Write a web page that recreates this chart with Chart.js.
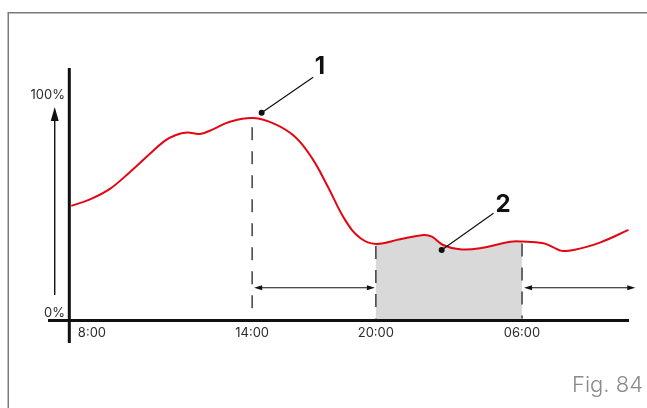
<!DOCTYPE html>
<html>
<head>
<meta charset="utf-8">
<script src="https://cdn.jsdelivr.net/npm/chart.js@4/dist/chart.umd.min.js"></script>
<style>
  html, body { margin: 0; padding: 0; background: #fff; }
  #wrap { width: 647px; height: 408px; }
</style>
</head>
<body>
<div id="wrap"><canvas id="c" width="647" height="408"></canvas></div>
<script>
// Schematic daily timeline (abstract units 0..100) and charge level in percent
const timeX = [0.4, 3.75, 7.3, 10.9, 14.5, 17.1, 19.1, 21.1, 23.4, 25.7, 28.75, 32.9, 36.8, 40.4, 43.4, 46.25, 49.3, 52.0, 54.8, 59.1, 63.3, 64.8, 66.8, 69.8, 73.4, 78.8, 80.9, 84.7, 86.5, 88.0, 90.1, 94.8, 99.9];
const levelPct = [52.5, 55.5, 60.3, 68.1, 76.5, 82.3, 85.0, 86.1, 85.5, 87.6, 91.1, 92.8, 90.0, 84.1, 74.4, 61.2, 46.1, 37.8, 35.1, 37.2, 39.2, 38.4, 34.6, 32.6, 33.1, 36.1, 36.2, 35.4, 33.5, 31.9, 32.3, 35.7, 41.5];

// Time axis labels and where they sit on the timeline
const tickPositions = [4.1, 32.7, 54.8, 80.9];
const tickLabels = ['8:00', '14:00', '20:00', '06:00'];

// Level axis labels
const levelTicks = [0, 100];
const levelLabels = ['0%', '100%'];

// Shaded period (20:00 to 06:00)
const shadedPeriod = [54.8, 80.9];

// Callouts: dot on the curve, leader end, number
const callouts = [
  { label: '1', dot: [34.4, 95.2], end: [43.6, 111.5], text: [44.8, 116.6] },
  { label: '2', dot: [66.55, 32.3], end: [75.8, 49.1], text: [77.5, 53.4] }
];

// Dashed markers: timeline position and top level
const markers = [
  { x: 32.7, top: 89.5 },
  { x: 54.8, top: 35.1 },
  { x: 80.9, top: 36.2 }
];

// Double-headed span arrows at a fixed level
const spans = [
  { from: 32.7, to: 54.8, level: 15 },
  { from: 80.9, to: 101.3, level: 15 }
];

const INK = '#111';
const RED = '#e30613';

function arrowHead(ctx, tipX, tipY, dir, len, half) {
  // dir: 'left' | 'right' | 'up'
  ctx.beginPath();
  if (dir === 'right') {
    ctx.moveTo(tipX, tipY); ctx.lineTo(tipX - len, tipY - half); ctx.lineTo(tipX - len, tipY + half);
  } else if (dir === 'left') {
    ctx.moveTo(tipX, tipY); ctx.lineTo(tipX + len, tipY - half); ctx.lineTo(tipX + len, tipY + half);
  } else {
    ctx.moveTo(tipX, tipY); ctx.lineTo(tipX - half, tipY + len); ctx.lineTo(tipX + half, tipY + len);
  }
  ctx.closePath();
  ctx.fill();
}

const shading = {
  id: 'shading',
  beforeDatasetsDraw(chart) {
    const ctx = chart.ctx, xs = chart.scales.x, ys = chart.scales.y;
    const pts = chart.getDatasetMeta(0).data;
    const x0 = xs.getPixelForValue(shadedPeriod[0]);
    const x1 = xs.getPixelForValue(shadedPeriod[1]);
    const yb = ys.getPixelForValue(0);
    ctx.save();
    ctx.beginPath();
    ctx.rect(x0, 0, x1 - x0, yb);
    ctx.clip();
    ctx.beginPath();
    ctx.moveTo(pts[0].x, yb);
    ctx.lineTo(pts[0].x, pts[0].y);
    for (let i = 1; i < pts.length; i++) {
      const p = pts[i - 1], q = pts[i];
      ctx.bezierCurveTo(p.cp2x, p.cp2y, q.cp1x, q.cp1y, q.x, q.y);
    }
    ctx.lineTo(pts[pts.length - 1].x, yb);
    ctx.closePath();
    ctx.fillStyle = '#d9d9d9';
    ctx.fill();
    ctx.restore();
  }
};

const decor = {
  id: 'decor',
  afterDatasetsDraw(chart) {
    const ctx = chart.ctx, xs = chart.scales.x, ys = chart.scales.y;
    const X = v => xs.getPixelForValue(v);
    const Y = v => ys.getPixelForValue(v);
    const area = chart.chartArea;
    ctx.save();

    // figure frame (top and left edges)
    ctx.strokeStyle = '#7a7a7a';
    ctx.lineWidth = 1.5;
    ctx.beginPath();
    ctx.moveTo(647, 12.75); ctx.lineTo(8.25, 12.75); ctx.lineTo(8.25, 408);
    ctx.stroke();

    // dashed markers
    ctx.strokeStyle = INK;
    ctx.lineWidth = 1.2;
    ctx.setLineDash([13, 11]);
    markers.forEach(m => {
      const px = X(m.x);
      ctx.beginPath();
      ctx.moveTo(px, Y(m.top) + 2);
      ctx.lineTo(px, Y(0) - 2);
      ctx.stroke();
    });
    ctx.setLineDash([]);

    // span arrows
    ctx.fillStyle = INK;
    ctx.lineWidth = 1;
    spans.forEach(s => {
      const a = X(s.from) + 2, b = X(s.to) - 1, y = Y(s.level);
      ctx.beginPath(); ctx.moveTo(a + 4, y); ctx.lineTo(b - 4, y); ctx.stroke();
      arrowHead(ctx, a, y, 'left', 8, 2.6);
      arrowHead(ctx, b, y, 'right', 8, 2.6);
    });

    // level arrow left of the axis
    const ax = X(-2.55);
    ctx.lineWidth = 1.4;
    ctx.beginPath(); ctx.moveTo(ax, Y(11.7)); ctx.lineTo(ax, Y(97.8) + 10); ctx.stroke();
    arrowHead(ctx, ax, Y(97.8), 'up', 14, 4);

    // axes
    ctx.lineWidth = 3;
    ctx.beginPath();
    ctx.moveTo(X(0) + 0.3, area.top); ctx.lineTo(X(0) + 0.3, Y(-10.3));
    ctx.moveTo(X(-3.75), Y(0)); ctx.lineTo(X(100), Y(0));
    ctx.stroke();

    // axis labels
    ctx.fillStyle = '#2b2b2b';
    ctx.font = '13px Inter, "Open Sans", sans-serif';
    ctx.textAlign = 'center';
    ctx.textBaseline = 'alphabetic';
    tickPositions.forEach((v, i) => ctx.fillText(tickLabels[i], X(v), Y(0) + 16.5));
    ctx.textAlign = 'right';
    levelTicks.forEach((v, i) => ctx.fillText(levelLabels[i], X(0) - 4, Y(v) - 3.5));

    // callouts
    ctx.fillStyle = INK;
    ctx.strokeStyle = INK;
    ctx.lineWidth = 1.2;
    ctx.font = 'bold 24px Inter, "Open Sans", sans-serif';
    ctx.textAlign = 'center';
    ctx.textBaseline = 'middle';
    callouts.forEach(c => {
      ctx.beginPath();
      ctx.moveTo(X(c.dot[0]), Y(c.dot[1]));
      ctx.lineTo(X(c.end[0]), Y(c.end[1]));
      ctx.stroke();
      ctx.beginPath();
      ctx.arc(X(c.dot[0]), Y(c.dot[1]), 3, 0, Math.PI * 2);
      ctx.fill();
      ctx.fillText(c.label, X(c.text[0]), Y(c.text[1]) + 1);
    });

    // figure number
    ctx.fillStyle = '#8a8a8a';
    ctx.font = '300 22px Inter, "Open Sans", sans-serif';
    ctx.textAlign = 'right';
    ctx.textBaseline = 'alphabetic';
    ctx.fillText('Fig. 84', 643, 392);

    ctx.restore();
  }
};

new Chart(document.getElementById('c'), {
  type: 'line',
  data: {
    datasets: [{
      data: timeX.map((x, i) => ({ x, y: levelPct[i] })),
      borderColor: RED,
      borderWidth: 2,
      pointRadius: 0,
      tension: 0.4,
      fill: false
    }]
  },
  options: {
    responsive: false,
    animation: false,
    layout: { padding: { left: 69, right: 18, top: 68, bottom: 87.5 } },
    scales: {
      x: { type: 'linear', min: 0, max: 100, display: false },
      y: { type: 'linear', min: 0, max: 115.7, display: false }
    },
    plugins: { legend: { display: false }, tooltip: { enabled: false } }
  },
  plugins: [shading, decor]
});
</script>
</body>
</html>
